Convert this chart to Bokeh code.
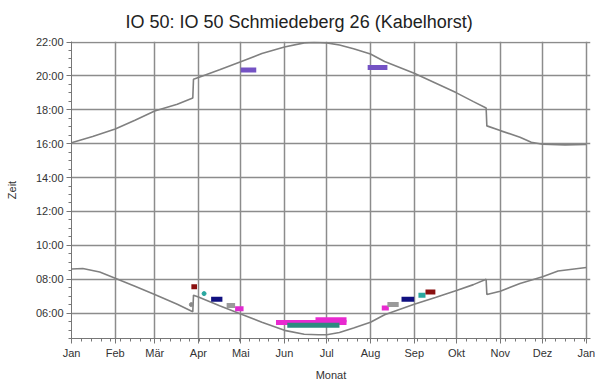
from bokeh.plotting import figure
from bokeh.models import FixedTicker, Range1d
from bokeh.embed import file_html
from bokeh.resources import INLINE

# --- data (day of year, hour of day) ---
month_labels = ["Jan", "Feb", "Mär", "Apr", "Mai", "Jun", "Jul", "Aug", "Sep", "Okt", "Nov", "Dez", "Jan"]
month_days = [0, 31, 59, 90, 120, 151, 181, 212, 243, 273, 304, 334, 365]

sunset_day = [0, 15, 31, 45, 59, 75, 86, 86.5, 90, 105, 120, 135, 151, 165, 172, 181, 190, 200,
              212, 222, 243, 258, 273, 285, 294, 294.5, 304, 318, 326, 334, 350, 365]
sunset_hour = [16.05, 16.42, 16.87, 17.38, 17.93, 18.33, 18.7, 19.8, 19.9, 20.36, 20.84, 21.32,
               21.71, 21.95, 21.98, 21.95, 21.82, 21.6, 21.29, 20.85, 20.16, 19.58, 19.0, 18.48,
               18.1, 17.05, 16.77, 16.38, 16.08, 15.97, 15.93, 15.95]

sunrise_day = [0, 8, 20, 31, 45, 59, 75, 86, 86.5, 90, 105, 120, 135, 151, 165, 175, 181, 190,
               200, 212, 222, 243, 258, 273, 285, 294, 294.5, 304, 318, 334, 345, 365]
sunrise_hour = [8.6, 8.63, 8.42, 8.06, 7.58, 7.1, 6.52, 6.08, 7.06, 6.95, 6.43, 5.94, 5.46, 4.98,
                4.75, 4.72, 4.72, 4.85, 5.12, 5.46, 5.9, 6.52, 6.92, 7.33, 7.68, 8.0, 7.1, 7.29,
                7.75, 8.15, 8.48, 8.69]

mark_start = [120, 210, 85, 99, 110, 116, 145, 173, 153, 220, 224, 234, 246, 251]
mark_end = [131, 224, 89, 107, 116, 122, 195, 195, 190, 225, 232, 243, 251, 258]
mark_time = [20.35, 20.5, 7.55, 6.82, 6.45, 6.25, 5.45, 5.6, 5.28, 6.3, 6.5, 6.82, 7.05, 7.25]
mark_color = ["#7452c4", "#7452c4", "#8a1010", "#101080", "#9a9a9a", "#e02ad0", "#e82ad0",
              "#e82ad0", "#2e8a80", "#e82ad0", "#9a9a9a", "#101080", "#2aa8a0", "#8a1010"]

dot_day = [85, 94]
dot_time = [6.5, 7.15]
dot_color = ["#8a8a8a", "#2aa8a0"]

y_ticks = [6, 8, 10, 12, 14, 16, 18, 20, 22]

FONT = "Liberation Sans"
GRID = "#8c8c8c"

p = figure(width=595, height=383, output_backend="svg", toolbar_location=None,
           x_range=Range1d(0, 368), y_range=Range1d(4.5, 22.03),
           min_border_left=71, min_border_right=5, min_border_top=41, min_border_bottom=41)
p.outline_line_color = None
p.background_fill_color = "white"

p.title.text = "IO 50: IO 50 Schmiedeberg 26 (Kabelhorst)"
p.title.text_font = FONT
p.title.text_font_size = "18px"
p.title.text_font_style = "normal"
p.title.text_color = "#222222"
p.title.align = "left"
p.title.offset = 54
p.title.standoff = 19

# axes
p.xaxis.ticker = FixedTicker(ticks=month_days, minor_ticks=list(range(0, 366, 7)))
p.xaxis.major_label_overrides = {d: l for d, l in zip(month_days, month_labels)}
p.yaxis.ticker = FixedTicker(ticks=y_ticks, minor_ticks=[4.5 + 0.5 * i for i in range(36)])
p.yaxis.major_label_overrides = {h: "%02d:00" % h for h in y_ticks}
p.xaxis.axis_label = "Monat"
p.yaxis.axis_label = "Zeit"
for ax in (p.xaxis, p.yaxis):
    ax.axis_line_color = "#777777"
    ax.major_tick_line_color = "#777777"
    ax.minor_tick_line_color = "#777777"
    ax.major_tick_in = 0
    ax.minor_tick_in = 0
    ax.major_tick_out = 5
    ax.minor_tick_out = 3
    ax.major_label_text_font = FONT
    ax.major_label_text_font_size = "11px"
    ax.major_label_text_color = "#333333"
    ax.axis_label_text_font = FONT
    ax.axis_label_text_font_size = "11px"
    ax.axis_label_text_font_style = "normal"
    ax.axis_label_text_color = "#333333"
p.xaxis.major_label_standoff = 3
p.xaxis.axis_label_standoff = 7
p.yaxis.major_label_standoff = 3
p.yaxis.axis_label_standoff = 15

p.xgrid.ticker = FixedTicker(ticks=month_days)
p.ygrid.ticker = FixedTicker(ticks=y_ticks)
p.grid.grid_line_color = GRID
p.grid.grid_line_width = 1.5
p.grid.grid_line_alpha = 1.0

# curves
p.line(sunset_day, sunset_hour, line_color="#808080", line_width=1.6)
p.line(sunrise_day, sunrise_hour, line_color="#808080", line_width=1.6)

# observation segments
p.segment(x0=mark_start, y0=mark_time, x1=mark_end, y1=mark_time,
          line_color=mark_color, line_width=5)
p.scatter(dot_day, dot_time, color=dot_color, size=4)

open("out.html", "w").write(file_html(p, INLINE))
